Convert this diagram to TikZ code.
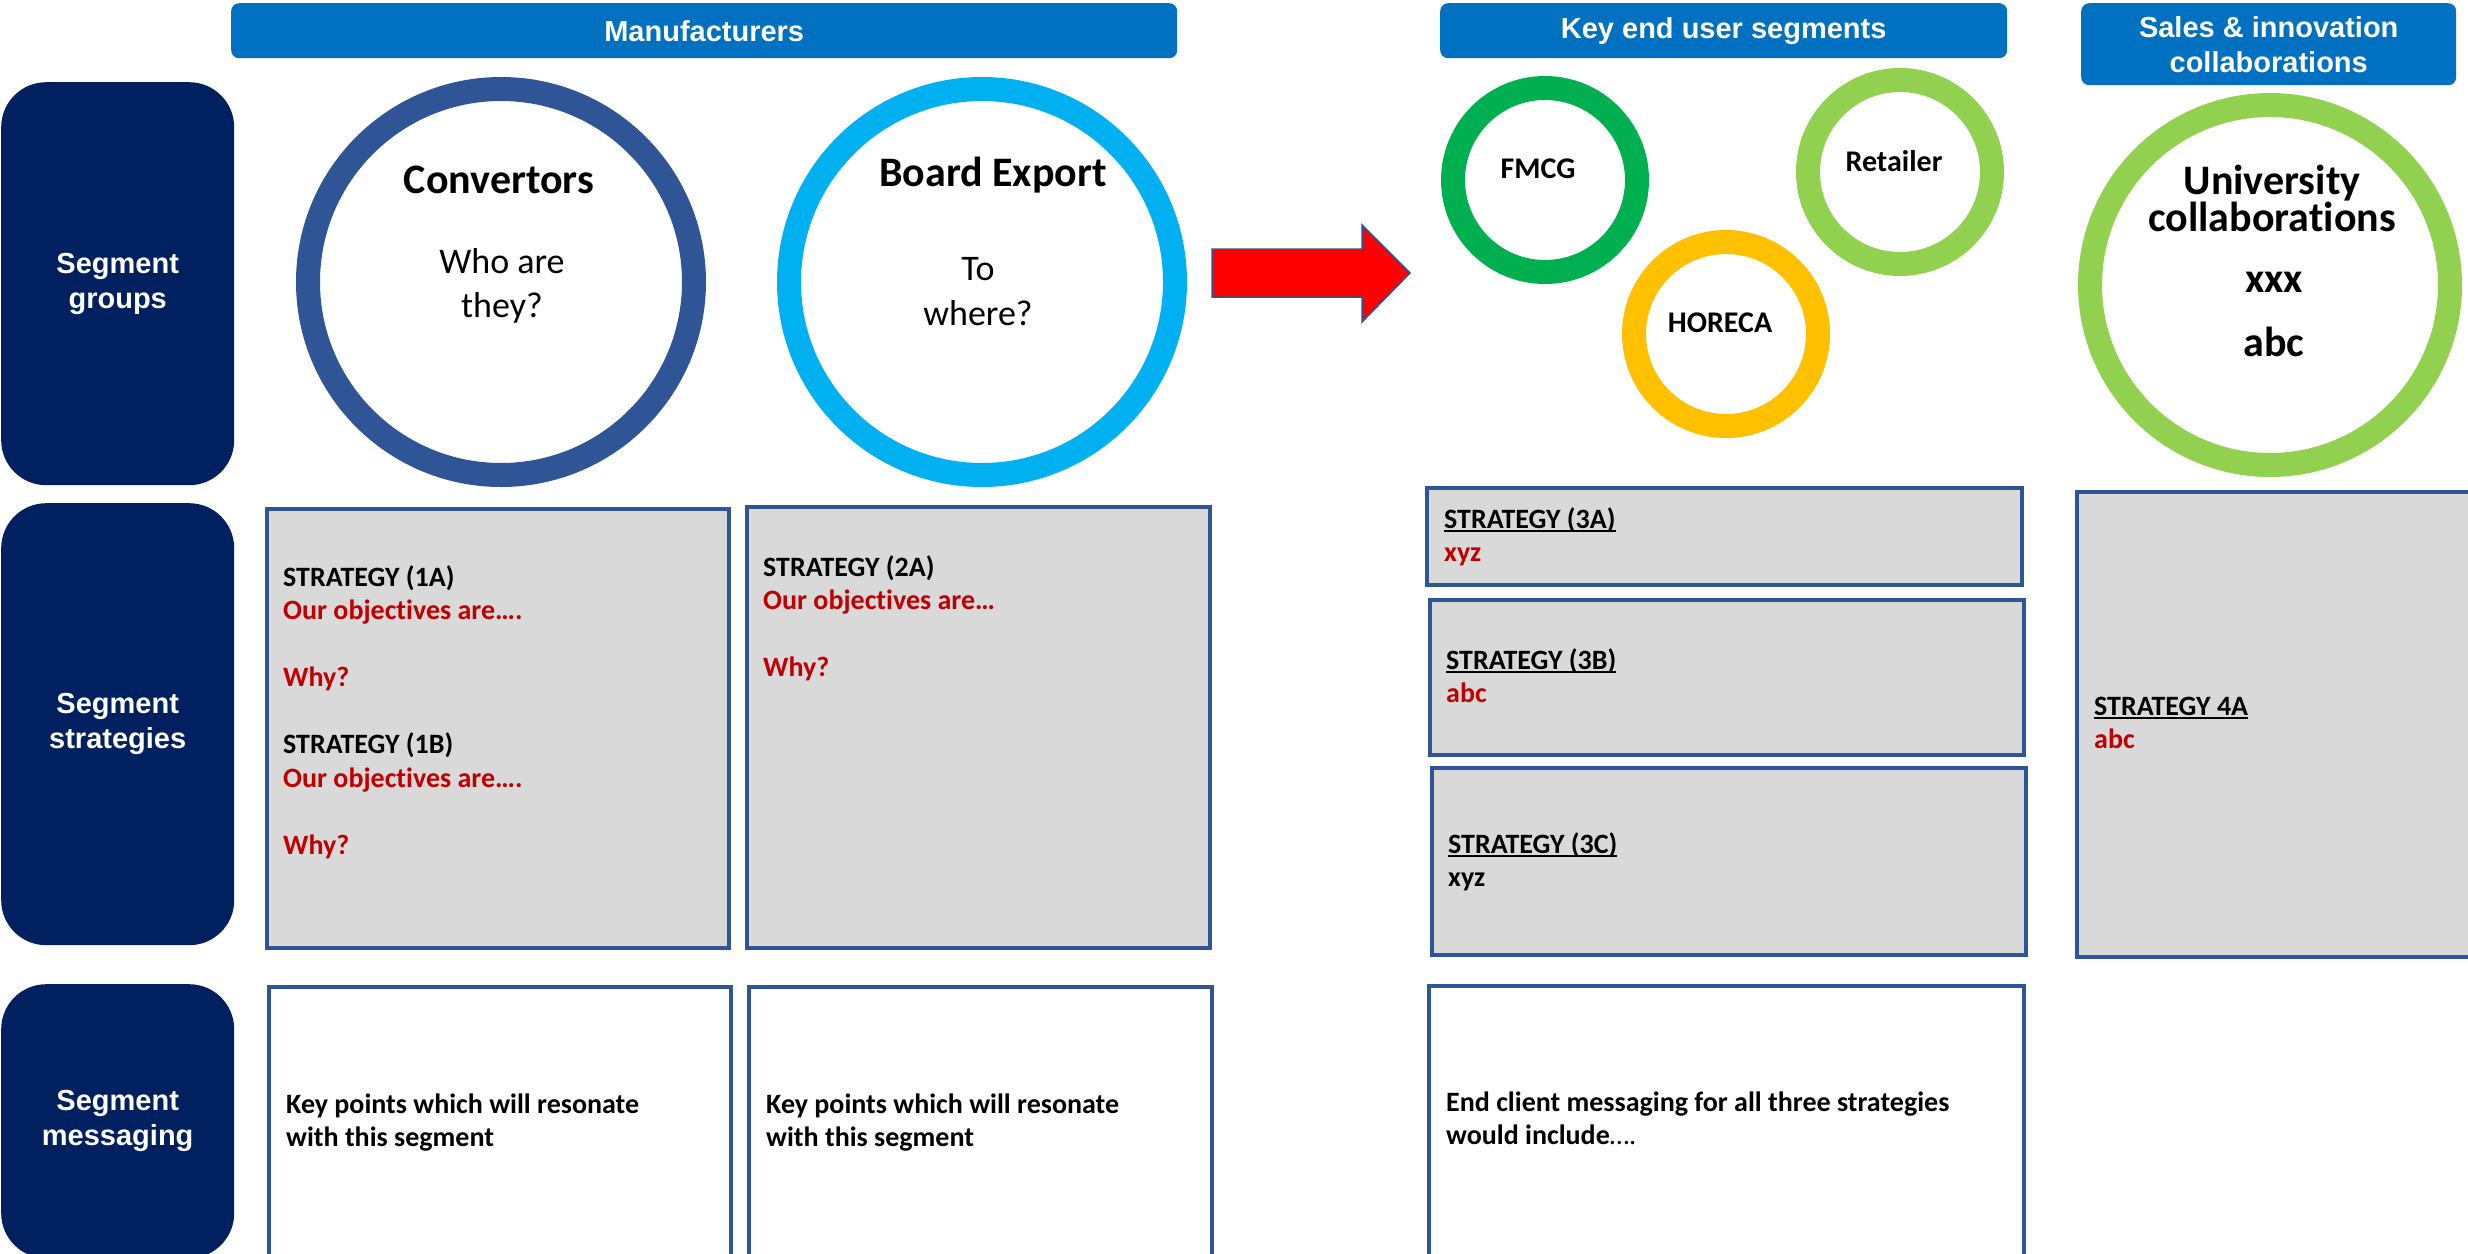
\documentclass[tikz,border=0pt]{standalone}
\usepackage{fontspec}
\setmainfont[Ligatures=NoCommon]{Carlito}
\newfontfamily\hdfont{Liberation Sans}
\definecolor{navy}{HTML}{002060}
\definecolor{hdblue}{HTML}{0070C0}
\definecolor{bordblue}{HTML}{2F5597}
\definecolor{boxgrey}{HTML}{D9D9D9}
\definecolor{convblue}{HTML}{2F5597}
\definecolor{skyblue}{HTML}{00B0F0}
\definecolor{fmcggreen}{HTML}{00B050}
\definecolor{lightgreen}{HTML}{92D050}
\definecolor{amber}{HTML}{FFC000}
\definecolor{darkred}{HTML}{C00000}
\definecolor{arrowred}{HTML}{FF0000}
\newcommand\boxlines[1]{\parbox[t]{640pt}{\raggedright #1}}
\newcommand\myul[1]{\leavevmode\setbox0\hbox{#1}\rlap{\rule[-3.5pt]{\wd0}{1.8pt}}\box0}
\begin{document}
\begin{tikzpicture}[x=1pt,y=-1pt,
  rowlabel/.style={fill=navy, rounded corners=45pt, text=white, align=center,
    font=\hdfont\bfseries\fontsize{29}{35}\selectfont, anchor=north west, inner sep=0, minimum width=233pt},
  header/.style={fill=hdblue, rounded corners=8pt, text=white, align=center,
    font=\hdfont\bfseries\fontsize{29}{35}\selectfont, anchor=north west, inner sep=0},
  sbox/.style={draw=bordblue, line width=3.5pt, fill=boxgrey, anchor=north west, inner sep=0},
  mbox/.style={draw=bordblue, line width=3.5pt, fill=white, anchor=north west, inner sep=0},
  ring/.style={circle, draw=#1, line width=24pt, inner sep=0},
  boxtxt/.style={anchor=base west, inner sep=0, font=\bfseries\fontsize{28}{33.5}\selectfont},
  ctitle/.style={anchor=base, inner sep=0, font=\bfseries\fontsize{42}{37}\selectfont},
  cquest/.style={anchor=base, inner sep=0, font=\fontsize{36}{44}\selectfont},
  csmall/.style={anchor=base, inner sep=0, font=\bfseries\fontsize{30}{36}\selectfont}
]
\clip (0,0) rectangle (2468,1253);
\fill[white] (0,0) rectangle (2468,1253);

% row labels
\node[rowlabel, minimum height=403pt] (lg) at (1,82) {Segment\\groups};
\node[rowlabel, minimum height=442pt] (ls) at (1,503) {Segment\\strategies};
\node[rowlabel, minimum height=274pt] (lm) at (1,984) {Segment\\messaging};

% headers
\node[header, minimum width=946pt, minimum height=55pt] (hman) at (231,3) {Manufacturers};
\node[header, minimum width=567pt, minimum height=55pt] (hkey) at (1440,3) {Key end user segments};
\node[header, minimum width=375pt, minimum height=82pt] (hsal) at (2081,3) {Sales \& innovation\\collaborations};

% rings
\node[ring=convblue, minimum size=386pt] (conv) at (501,282) {};
\node[ring=skyblue, minimum size=386pt] (board) at (982,282) {};
\node[ring=fmcggreen, minimum size=184pt] (fmcg) at (1545,180) {};
\node[ring=lightgreen, minimum size=184pt] (ret) at (1900,172) {};
\node[ring=amber, minimum size=184pt] (hor) at (1726,334) {};
\node[ring=lightgreen, minimum size=360pt] (uni) at (2270,285) {};

\node[ctitle] (convT) at (499,193) {Convertors};
\node[cquest] (convQa) at (502,273) {Who are};
\node[cquest] (convQb) at (502,317) {they?};
\node[ctitle] (boardT) at (993,186) {Board Export};
\node[cquest] (boardQa) at (978,280) {To};
\node[cquest] (boardQb) at (978,325) {where?};
\node[csmall] (fmcgT) at (1538,178) {FMCG};
\node[csmall] (retT) at (1894,171) {Retailer};
\node[csmall] (horT) at (1720,332) {HORECA};
\node[ctitle] (uniTa) at (2272,194) {University};
\node[ctitle] (uniTb) at (2272,231) {collaborations};
\node[ctitle] (uniX) at (2274,292) {xxx};
\node[ctitle] (uniA) at (2274,356) {abc};

% block arrow
\fill[arrowred, draw=bordblue, line width=1.5pt] (1212,249) -- (1362,249) -- (1362,225) -- (1410,273)
  -- (1362,322) -- (1362,297) -- (1212,297) -- cycle;

% strategy boxes
\node[sbox, minimum width=462pt, minimum height=439pt] (s1) at (265,507) {};
\node[sbox, minimum width=463pt, minimum height=441pt] (s2) at (745,505) {};
\node[sbox, minimum width=595pt, minimum height=97pt] (s3a) at (1425,486) {};
\node[sbox, minimum width=594pt, minimum height=155pt] (s3b) at (1428,598) {};
\node[sbox, minimum width=594pt, minimum height=187pt] (s3c) at (1430,766) {};
\node[sbox, minimum width=415pt, minimum height=465pt] (s4) at (2075,490) {};

% messaging boxes
\node[mbox, minimum width=462pt, minimum height=273pt] (m1) at (267,985) {};
\node[mbox, minimum width=463pt, minimum height=273pt] (m2) at (747,985) {};
\node[mbox, minimum width=595pt, minimum height=274pt] (m3) at (1427,984) {};

% texts in boxes
\node[boxtxt] (s1t) at (283,586) {\boxlines{STRATEGY (1A)\\
  \textcolor{darkred}{Our objectives are….}\\[33.5pt]
  \textcolor{darkred}{Why?}\\[33.5pt]
  STRATEGY (1B)\\
  \textcolor{darkred}{Our objectives are….}\\[33.5pt]
  \textcolor{darkred}{Why?}}};
\node[boxtxt] (s2t) at (763,576) {\boxlines{STRATEGY (2A)\\
  \textcolor{darkred}{Our objectives are…}\\[33.5pt]
  \textcolor{darkred}{Why?}}};
\node[boxtxt] (s3at) at (1444,528) {\boxlines{\myul{STRATEGY (3A)}\\ \textcolor{darkred}{xyz}}};
\node[boxtxt] (s3bt) at (1446,669) {\boxlines{\myul{STRATEGY (3B)}\\ \textcolor{darkred}{abc}}};
\node[boxtxt] (s3ct) at (1448,853) {\boxlines{\myul{STRATEGY (3C)}\\ xyz}};
\node[boxtxt] (s4t) at (2094,715) {\boxlines{\myul{STRATEGY 4A}\\ \textcolor{darkred}{abc}}};

\node[boxtxt] (m1t) at (286,1113) {\boxlines{Key points which will resonate\\ with this segment}};
\node[boxtxt] (m2t) at (766,1113) {\boxlines{Key points which will resonate\\ with this segment}};
\node[boxtxt] (m3t) at (1446,1111) {\boxlines{End client messaging for all three strategies\\ would include{\mdseries ….}}};
\end{tikzpicture}
\end{document}
